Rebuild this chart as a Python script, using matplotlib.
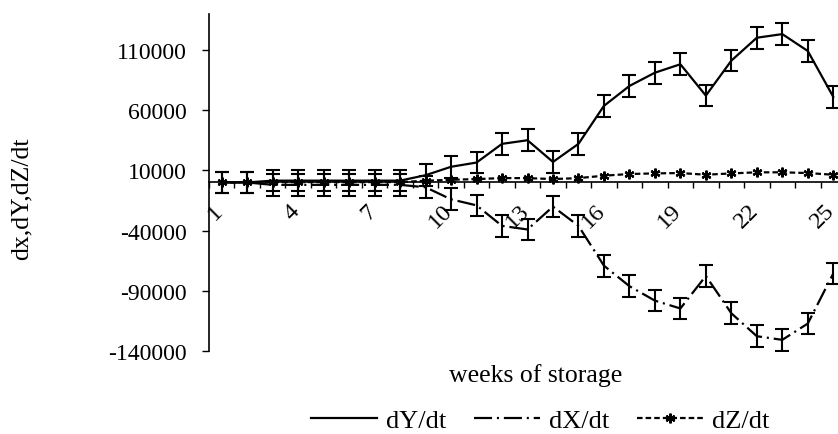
import matplotlib
matplotlib.use("Agg")
import matplotlib.pyplot as plt
from matplotlib.ticker import FixedLocator, NullFormatter
from matplotlib.transforms import ScaledTranslation

plt.rcParams['font.family'] = ['Liberation Serif', 'DejaVu Serif']
plt.rcParams['lines.scale_dashes'] = False

weeks = list(range(1, 26))
week_labels = ["1", "4", "7", "10", "13", "16", "19", "22", "25"]
label_weeks = [1, 4, 7, 10, 13, 16, 19, 22, 25]

dY = [0, 0, 1500, 1500, 1500, 1500, 1500, 1500, 6000, 13000, 16500, 32000, 35000,
      17000, 32000, 63500, 80000, 91000, 98000, 72000, 101000, 120000, 123000, 109000, 71000]
dX = [0, 0, -2000, -2000, -2000, -2000, -2000, -2000, -4000, -14000, -19000, -36000, -39000,
      -20000, -36000, -69000, -86000, -98000, -104500, -77500, -108500, -127500, -130500,
      -117000, -75500]
dZ = [0, 0, 300, 300, 300, 300, 300, 300, 1400, 2200, 2800, 3600, 3600, 2800, 3600,
      5600, 7000, 7500, 7800, 6400, 7500, 8400, 8400, 7800, 6400]
err_Y = [9000] * 25
err_X = [9000] * 25

yticks = [-140000, -90000, -40000, 10000, 60000, 110000]

W, H = 838, 435
fig = plt.figure(figsize=(W / 100, H / 100), dpi=100)
ax = fig.add_axes([209 / W, 1 - 352.3 / H, 637 / W, 337.7 / H])

lw = 1.6
dashdot = (0, (13, 3.5, 1.5, 3.5))
dashed = (0, (4, 2.2))
star = (6, 2, 0)

ax.errorbar(weeks, dY, yerr=err_Y, fmt='none', ecolor='black', elinewidth=1.5,
            capsize=4.7, capthick=1.5, zorder=3)
ax.errorbar(weeks, dX, yerr=err_X, fmt='none', ecolor='black', elinewidth=1.5,
            capsize=4.7, capthick=1.5, zorder=3)

ax.plot(weeks, dY, color='black', lw=lw, ls='-', label='dY/dt', zorder=4)
ax.plot(weeks, dX, color='black', lw=lw, ls=dashdot, label='dX/dt', zorder=4)
ax.plot(weeks, dZ, color='black', lw=lw, ls=dashed, marker=star, ms=7, mew=1.6,
        label='dZ/dt', zorder=5)

ax.set_xlim(0.5, 25.5)
ax.set_ylim(-140000, 140000)

for s in ['top', 'right']:
    ax.spines[s].set_visible(False)
ax.spines['bottom'].set_position(('data', 0))
ax.spines['left'].set_linewidth(1.2)
ax.spines['bottom'].set_linewidth(1.2)

ax.set_yticks(yticks)
ax.set_yticklabels([str(v) for v in yticks], fontsize=17)
ax.tick_params(axis='y', direction='out', length=5, width=1, pad=11)

# major x ticks at category boundaries, labels as minor ticks
ax.xaxis.set_major_locator(FixedLocator([i + 0.5 for i in range(0, 26)]))
ax.xaxis.set_major_formatter(NullFormatter())
ax.tick_params(axis='x', which='major', direction='out', length=4, width=1)
ax.set_xticks(label_weeks, minor=True)
ax.set_xticklabels(week_labels, minor=True, rotation=45, ha='right', va='top',
                   fontsize=17.5)
ax.tick_params(axis='x', which='minor', length=0, pad=12.5)
shift = ScaledTranslation(4 / 72 * 1.0, 0, fig.dpi_scale_trans)
for lab in ax.get_xticklabels(minor=True):
    lab.set_transform(lab.get_transform() + shift)

ax.set_xlabel('weeks of storage', fontsize=18.5, va='center')
ax.xaxis.set_label_coords((536 - 209) / 637, (352.3 - 376) / 337.7)
ax.set_ylabel('dx,dY,dZ/dt', fontsize=18.5, va='center')
ax.yaxis.set_label_coords((22 - 209) / 637, (352.3 - 199) / 337.7)

leg = fig.legend(loc='center', bbox_to_anchor=(540 / W, 1 - 421 / H), ncol=3,
                 frameon=False, fontsize=19, handlelength=2.5, handletextpad=0.35,
                 columnspacing=1.05, numpoints=1, borderpad=0, borderaxespad=0)

fig.savefig('out.png', dpi=100)
